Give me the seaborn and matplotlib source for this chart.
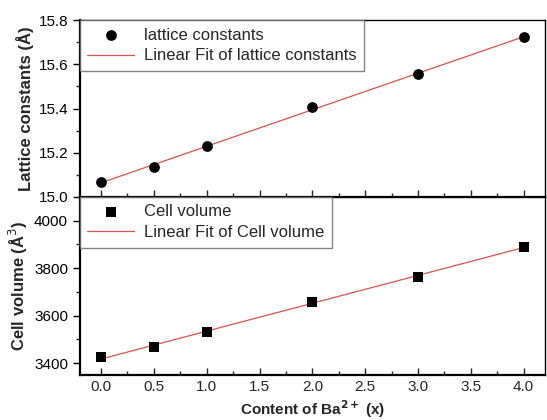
import numpy as np
import pandas as pd
import matplotlib
matplotlib.use("Agg")
import matplotlib.pyplot as plt
from matplotlib.ticker import MultipleLocator
import seaborn as sns

x_content = [0.0, 0.5, 1.0, 2.0, 3.0, 4.0]
lattice = [15.07, 15.135, 15.23, 15.405, 15.555, 15.725]
volume = [3425, 3468, 3533, 3657, 3765, 3890]

df = pd.DataFrame({"x": x_content, "lattice": lattice, "volume": volume})

sns.set_theme(style="ticks")
plt.rcParams["font.family"] = ["Liberation Sans", "DejaVu Sans"]

fig = plt.figure(figsize=(5.47, 4.2), dpi=100)
ax1 = fig.add_axes([0.146, 0.531, 0.850, 0.421])
ax2 = fig.add_axes([0.146, 0.107, 0.850, 0.424])

sns.scatterplot(data=df, x="x", y="lattice", ax=ax1, s=60, color="black",
                marker="o", edgecolor="black", linewidth=0, label="lattice constants", zorder=3)
sns.regplot(data=df, x="x", y="lattice", ax=ax1, ci=None, scatter=False,
            label="Linear Fit of lattice constants",
            line_kws=dict(color="#d9534f", lw=0.9))
sns.scatterplot(data=df, x="x", y="volume", ax=ax2, s=45, color="black",
                marker="s", edgecolor="black", linewidth=0, label="Cell volume", zorder=3)
sns.regplot(data=df, x="x", y="volume", ax=ax2, ci=None, scatter=False,
            label="Linear Fit of Cell volume",
            line_kws=dict(color="#d9534f", lw=0.9))

for ax in (ax1, ax2):
    ax.set_xlim(-0.2, 4.2)
    ax.xaxis.set_major_locator(MultipleLocator(0.5))
    ax.xaxis.set_minor_locator(MultipleLocator(0.25))
    for s in ax.spines.values():
        s.set_color("black")
        s.set_linewidth(1.0)
    ax.spines["left"].set_linewidth(1.6)
    ax.spines["bottom"].set_linewidth(1.6)
    ax.tick_params(axis="y", which="major", direction="out", length=5, width=1, labelsize=11, colors="black")
    ax.tick_params(axis="y", which="minor", direction="out", length=3, width=1)
    ax.tick_params(axis="x", which="major", direction="in", length=5, width=1, labelsize=11)
    ax.tick_params(axis="x", which="minor", direction="in", length=3, width=1)

ax1.set_ylim(15.0, 15.8)
ax1.yaxis.set_major_locator(MultipleLocator(0.2))
ax1.yaxis.set_minor_locator(MultipleLocator(0.1))
ax1.tick_params(axis="x", labelbottom=False)
ax1.set_xlabel("")
ax1.set_ylabel("Lattice constants (Å)", fontsize=12, fontweight="bold", labelpad=3)

ax2.set_ylim(3350, 4100)
ax2.set_yticks([3400, 3600, 3800, 4000])
ax2.yaxis.set_minor_locator(MultipleLocator(100))
ax2.set_xlabel("Content of Ba$^{\\mathbf{2+}}$ (x)", fontsize=11, fontweight="bold", labelpad=3)
ax2.set_ylabel("Cell volume (Å$^3$)", fontsize=12, fontweight="bold", labelpad=3)

for ax in (ax1, ax2):
    leg = ax.legend(loc="upper left", fontsize=12, frameon=True, fancybox=False,
                    borderaxespad=0.0, handlelength=2.8, handletextpad=0.6,
                    borderpad=0.45, labelspacing=0.35)
    leg.get_frame().set_edgecolor("#666666")
    leg.get_frame().set_linewidth(1.0)

fig.savefig("out.png", dpi=100)
